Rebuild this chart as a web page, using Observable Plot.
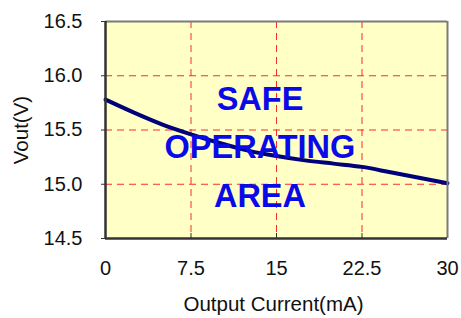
<!DOCTYPE html>
<html>
<head>
<meta charset="utf-8">
<script src="https://cdn.jsdelivr.net/npm/d3@7"></script>
<script src="https://cdn.jsdelivr.net/npm/@observablehq/plot@0.6"></script>
<style>
  html, body { margin: 0; padding: 0; background: #ffffff; }
  svg { display: block; }
</style>
</head>
<body>
<div id="chart"></div>
<script>
const xTicks = [0, 7.5, 15, 22.5, 30];
const yTicks = [14.5, 15.0, 15.5, 16.0, 16.5];
const current = [0, 2.5, 5, 7.5, 10, 12.5, 15, 17.5, 20, 22.5, 25, 27.5, 30];
const vout = [15.78, 15.66, 15.55, 15.46, 15.38, 15.31, 15.26, 15.22, 15.19, 15.16, 15.11, 15.06, 15.01];
const areaLabels = ["SAFE", "OPERATING", "AREA"];
const areaLabelX = [13.55, 13.55, 13.55];
const areaLabelY = [15.78, 15.34, 14.885];
const xTitle = "Output Current(mA)";
const yTitle = "Vout(V)";

const curve = current.map((c, i) => ({current: c, vout: vout[i]}));
const labels = areaLabels.map((t, i) => ({text: t, x: areaLabelX[i], y: areaLabelY[i]}));

const chart = Plot.plot({
  width: 461,
  height: 318,
  marginLeft: 105,
  marginRight: 14,
  marginTop: 21,
  marginBottom: 80,
  x: {domain: [0, 30]},
  y: {domain: [14.5, 16.5]},
  style: {background: "#ffffff", fontFamily: "'Liberation Sans', Arial, sans-serif", fontSize: "20px", color: "#111"},
  marks: [
    Plot.frame({fill: "#ffffc6", stroke: null}),
    Plot.gridX(xTicks.slice(1, -1), {stroke: "#ff2a2a", strokeOpacity: 1, strokeWidth: 1, strokeDasharray: "7,5"}),
    Plot.gridY(yTicks.slice(1, -1), {stroke: "#ff2a2a", strokeOpacity: 1, strokeWidth: 1, strokeDasharray: "7,5"}),
    Plot.line(curve, {x: "current", y: "vout", stroke: "#00007a", strokeWidth: 4, curve: "monotone-x"}),
    Plot.text(labels, {x: "x", y: "y", text: "text", fill: "#0a0ae8", fontSize: 32.5, fontWeight: "bold", fontFamily: "'Liberation Sans', Arial, sans-serif"}),
    Plot.ruleX([30], {stroke: "#7a7a7a", strokeWidth: 2}),
    Plot.ruleY([16.5], {stroke: "#7a7a7a", strokeWidth: 2}),
    Plot.ruleX([0], {stroke: "#333", strokeWidth: 2.5}),
    Plot.ruleY([14.5], {stroke: "#333", strokeWidth: 2.5}),
    Plot.axisX(xTicks, {anchor: "bottom", tickSize: 0, tickPadding: 22, fontSize: 20, tickFormat: d => String(d), label: null}),
    Plot.axisX(xTicks.slice(1, -1), {anchor: "bottom", tickSize: -5, text: null, label: null, stroke: "#333"}),
    Plot.axisY(yTicks, {anchor: "left", tickSize: 4, tickPadding: 19, fontSize: 20, tickFormat: d3.format(".1f"), label: null, stroke: "#333"}),
    Plot.text([yTitle], {frameAnchor: "left", dx: -84, rotate: -90, textAnchor: "middle", lineAnchor: "middle", fontSize: 20.5}),
    Plot.text([xTitle], {frameAnchor: "bottom", dx: -3, dy: 66, textAnchor: "middle", lineAnchor: "middle", fontSize: 20.5})
  ]
});
document.getElementById("chart").appendChild(chart);
</script>
</body>
</html>
